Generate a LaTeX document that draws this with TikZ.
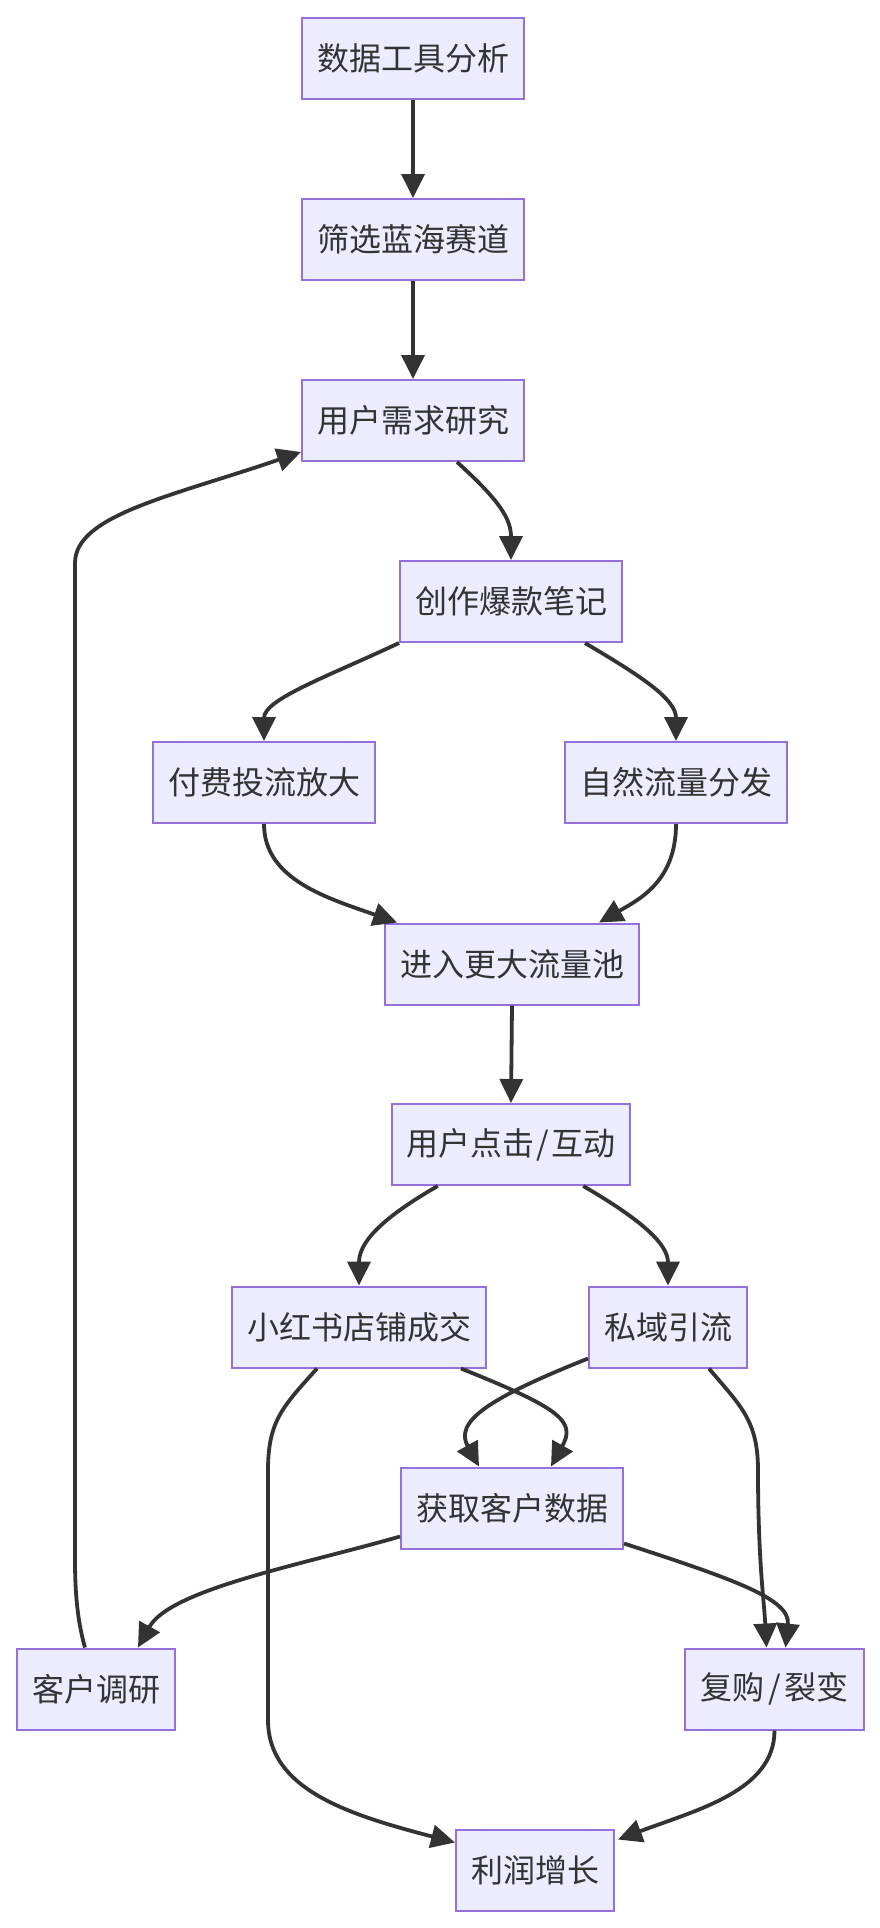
\documentclass[tikz,border=0pt]{standalone}
\usepackage{fontspec}
\newfontfamily\cjk{Noto Sans CJK SC}
\usetikzlibrary{arrows.meta}
\definecolor{boxfill}{HTML}{ECECFF}
\definecolor{boxline}{HTML}{9370DB}
\definecolor{ink}{HTML}{333333}
\begin{document}
\begin{tikzpicture}[x=1pt,y=1pt,
  box/.style={draw=boxline,line width=2pt,fill=boxfill,text=ink,minimum height=81pt,inner xsep=15pt,font=\cjk\fontsize{32}{38}\selectfont},
  flow/.style={draw=ink,line width=3.8pt,->,line join=round},
  >={Triangle[length=24pt,width=23pt]}]
\useasboundingbox (0,0) rectangle (880,-1928);
\node[box] (data) at (413,-58.5) {数据工具分析};
\node[box] (track) at (413,-239.5) {筛选蓝海赛道};
\node[box] (need) at (413,-420.5) {用户需求研究};
\node[box] (note) at (511,-601.5) {创作爆款笔记};
\node[box] (paid) at (264,-782.5) {付费投流放大};
\node[box] (free) at (676,-782.5) {自然流量分发};
\node[box] (pool) at (512,-964) {进入更大流量池};
\node[box] (click) at (511,-1144.5) {用户点击\hspace{2pt}/\hspace{2pt}互动};
\node[box] (shop) at (359,-1327) {小红书店铺成交};
\node[box] (priv) at (668,-1327) {私域引流};
\node[box] (cdata) at (512,-1508) {获取客户数据};
\node[box] (survey) at (96,-1689) {客户调研};
\node[box] (rebuy) at (774.5,-1689) {复购\hspace{4pt}/\hspace{4pt}裂变};
\node[box] (profit) at (535,-1870) {利润增长};
\draw[flow] (data.south)--(track.north);
\draw[flow] (track.south)--(need.north);
\draw[flow] ([xshift=44pt]need.south) .. controls +(43,-39) and +(0,41) .. (note.north);
\draw[flow] (note.south west) .. controls +(-70,-33) and +(0,42) .. (paid.north);
\draw[flow] ([xshift=-38pt]note.south east) .. controls +(56,-33) and +(0,42) .. (free.north);
\draw[flow] (paid.south) .. controls +(0,-56) and +(-68,24) .. ([xshift=13pt]pool.north west);
\draw[flow] (free.south) .. controls +(0,-56) and +(42,24) .. ([xshift=-41pt]pool.north east);
\draw[flow] (pool.south)--(click.north);
\draw[flow] ([xshift=47pt]click.south west) .. controls +(-61,-35) and +(0,41) .. (shop.north);
\draw[flow] ([xshift=-48pt]click.south east) .. controls +(60,-35) and +(0,41) .. (priv.north);
\draw[flow] ([xshift=-26pt]shop.south east) .. controls +(100,-40) and +(25,45) .. ([xshift=39pt]cdata.north);
\draw[flow] ([yshift=10pt]priv.south west) .. controls +(-100,-40) and +(-25,45) .. ([xshift=-33pt]cdata.north);
\draw[flow] ([xshift=86pt]shop.south west) .. controls +(-33,-37) and (268,-1420) .. (268,-1470)
  -- (268,-1720) .. controls (268,-1790) and (350,-1815) .. ([yshift=-14pt]profit.north west);
\draw[flow] ([xshift=-39pt]priv.south east) .. controls +(31,-37) and (758,-1420) .. (758,-1470)
  .. controls (758,-1560) and (764,-1600) .. ([xshift=-8pt]rebuy.north);
\draw[flow] ([yshift=6pt]cdata.south east) .. controls +(114,-37) and +(5,48) .. ([xshift=11pt]rebuy.north);
\draw[flow] ([yshift=13pt]cdata.south west) .. controls +(-101,-29) and +(32,58) .. ([xshift=42pt]survey.north);
\draw[flow] ([xshift=-11pt]survey.north) .. controls +(-8,28) and (75,-1590) .. (75,-1560)
  -- (75,-563) .. controls (75,-515) and (173,-496) .. ([yshift=10pt]need.south west);
\draw[flow] (rebuy.south) .. controls +(0,-60) and +(80,30) .. ([xshift=3pt,yshift=-11pt]profit.north east);
\end{tikzpicture}
\end{document}
